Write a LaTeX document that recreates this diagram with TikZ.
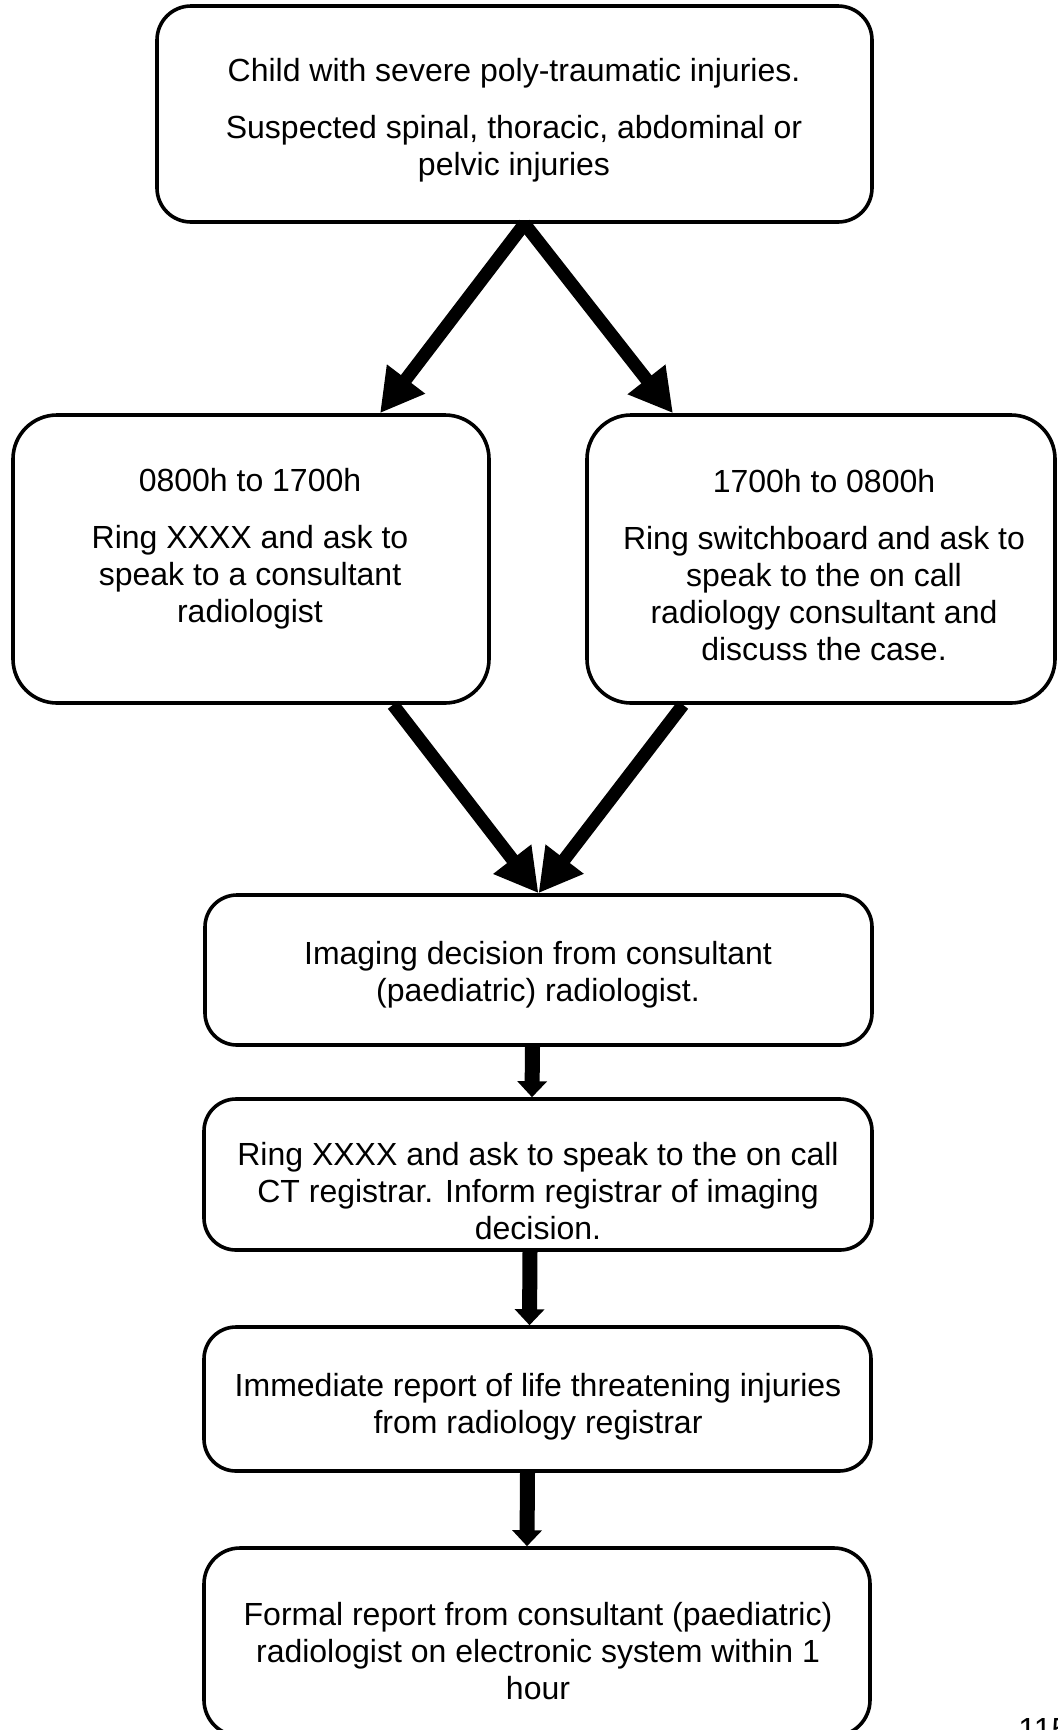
\documentclass[tikz,border=0pt]{standalone}
\usepackage{fontspec}
\setmainfont{Liberation Sans}
\usetikzlibrary{arrows.meta}
\tikzset{
  box/.style={draw, line width=1.8pt, rounded corners=16pt, inner sep=0pt},
  txt/.style={align=center, inner sep=0pt, font=\fontsize{16}{18.5}\selectfont},
  bigarrow/.style={line width=6.5pt, -{Triangle[length=21.5pt,width=22.5pt]}},
  smallarrow/.style={line width=7.5pt, -{Triangle[length=8pt,width=14.5pt]}}
}
\begin{document}
\begin{tikzpicture}[x=0.5pt,y=-0.5pt]
\useasboundingbox (0,0) rectangle (1058,1730);
\clip (0,0) rectangle (1058,1730);

\node[box, rounded corners=17pt, minimum width=357.5pt, minimum height=108pt] (injury) at (514.5,114) {};
\node[txt] (injurytxt) at (514,120) {Child with severe poly-traumatic injuries.\\[10pt]Suspected spinal, thoracic, abdominal or\\pelvic injuries};

\node[box, rounded corners=22pt, minimum width=238pt, minimum height=144pt] (dayshift) at (251,559) {};
\node[txt] (daytxt) at (250,549) {0800h to 1700h\\[10pt]Ring XXXX and ask to\\speak to a consultant\\radiologist};

\node[box, rounded corners=22pt, minimum width=234pt, minimum height=144pt] (nightshift) at (821,559) {};
\node[txt] (nighttxt) at (824,565) {1700h to 0800h\\[10pt]Ring switchboard and ask to\\speak to the on call\\radiology consultant and\\discuss the case.};

\node[box, minimum width=333.5pt, minimum height=75pt] (decision) at (538.5,970) {};
\node[txt] (decisiontxt) at (538,975) {Imaging decision from consultant\\(paediatric) radiologist.};

\node[box, minimum width=334pt, minimum height=75.5pt] (ctreg) at (538,1174.5) {};
\node[txt] (ctregtxt) at (538,1191) {Ring XXXX and ask to speak to the on call\\CT registrar. Inform registrar of imaging\\decision.};

\node[box, minimum width=333.5pt, minimum height=72pt] (lifereport) at (537.5,1399) {};
\node[txt] (lifetxt) at (538,1407) {Immediate report of life threatening injuries\\from radiology registrar};

\node[box, rounded corners=18pt, minimum width=333pt, minimum height=94pt] (formalreport) at (537,1642) {};
\node[txt] (formaltxt) at (538,1651) {Formal report from consultant (paediatric)\\radiologist on electronic system within 1\\hour};

\node[txt, anchor=base west] (pagenum) at (1018,1740) {115};

\draw[bigarrow] ([xshift=5pt]injury.south) -- ([xshift=64.5pt]dayshift.north);
\draw[bigarrow] ([xshift=5pt]injury.south) -- ([xshift=-74pt]nightshift.north);
\draw[bigarrow] ([xshift=71pt]dayshift.south) -- (decision.north);
\draw[bigarrow] ([xshift=-69pt]nightshift.south) -- (decision.north);
\draw[smallarrow] ([xshift=-3pt]decision.south) -- ([xshift=-3pt]ctreg.north);
\draw[smallarrow] ([xshift=-4pt]ctreg.south) -- ([xshift=-4pt]lifereport.north);
\draw[smallarrow] ([xshift=-5pt]lifereport.south) -- ([xshift=-5pt]formalreport.north);
\end{tikzpicture}
\end{document}
